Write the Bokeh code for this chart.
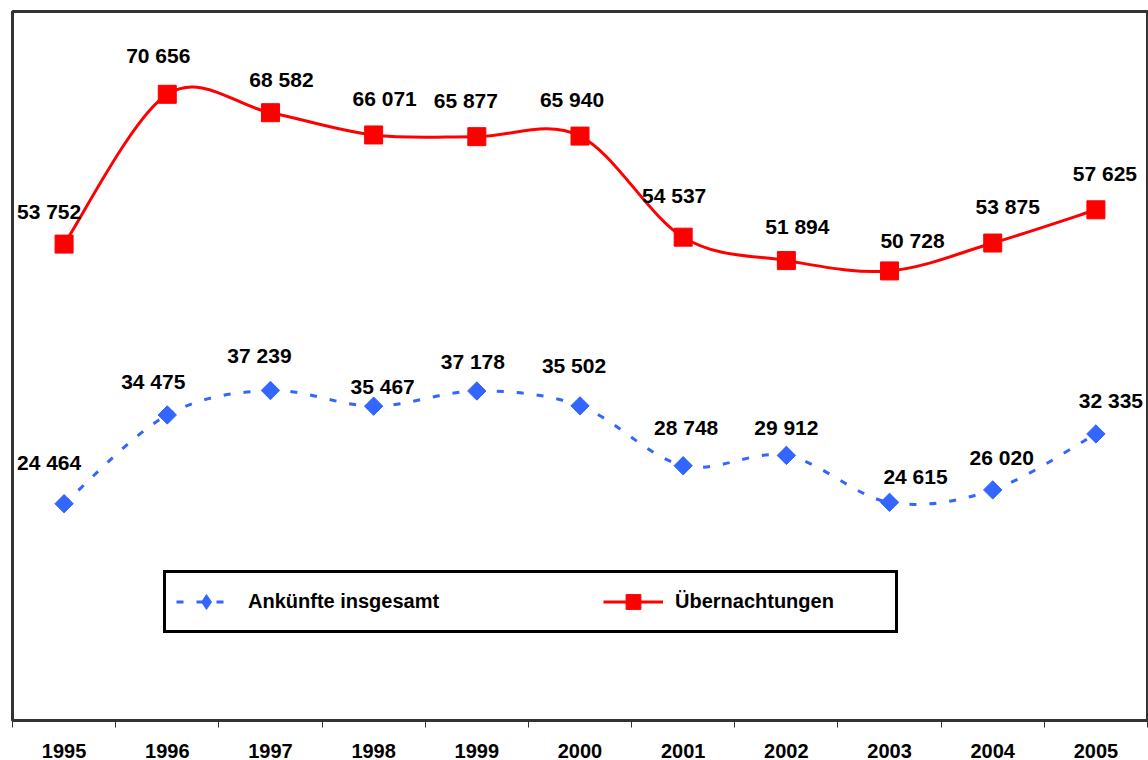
import numpy as np
from bokeh.plotting import figure
from bokeh.models import FixedTicker, Legend, LegendItem, ColumnDataSource, Range1d
from bokeh.core.properties import value
from bokeh.embed import file_html
from bokeh.resources import INLINE

# ---- data ----
years = ["1995", "1996", "1997", "1998", "1999", "2000", "2001", "2002", "2003", "2004", "2005"]
arrivals = [24464, 34475, 37239, 35467, 37178, 35502, 28748, 29912, 24615, 26020, 32335]
nights = [53752, 70656, 68582, 66071, 65877, 65940, 54537, 51894, 50728, 53875, 57625]

# ---- label offsets in pixels (styling) ----
nights_dx = [-15, -9, 11, 11, -11, -8, -9, 11, 23, 15, 9]
nights_dy = [-33, -39, -33, -36, -36, -37, -42, -34, -30, -37, -36]
arr_dx = [-15, -14, -11, 9, -4, -6, 3, 0, 26, 9, 15]
arr_dy = [-41, -33, -35, -20, -30, -40, -38, -28, -26, -32, -33]

FONT = "Liberation Sans"
RED = "#FF0000"
BLUE = "#3366FF"


def fmt(v):
    return f"{v:,}".replace(",", " ")


def smooth_segments(vals):
    """Cubic Bezier segments (Catmull-Rom style) through the data points."""
    x = np.arange(len(vals), dtype=float)
    y = np.asarray(vals, dtype=float)
    xp = np.concatenate([[x[0]], x, [x[-1]]])
    yp = np.concatenate([[y[0]], y, [y[-1]]])
    n = len(vals)
    d = dict(x0=[], y0=[], x1=[], y1=[], cx0=[], cy0=[], cx1=[], cy1=[])
    for i in range(n - 1):
        j = i + 1  # index into padded arrays
        d["x0"].append(xp[j]); d["y0"].append(yp[j])
        d["x1"].append(xp[j + 1]); d["y1"].append(yp[j + 1])
        d["cx0"].append(xp[j] + (xp[j + 1] - xp[j - 1]) / 6)
        d["cy0"].append(yp[j] + (yp[j + 1] - yp[j - 1]) / 6)
        d["cx1"].append(xp[j + 1] - (xp[j + 2] - xp[j]) / 6)
        d["cy1"].append(yp[j + 1] - (yp[j + 2] - yp[j]) / 6)
    return ColumnDataSource(d)


n = len(years)
xs = list(range(n))
x_start, x_end = -0.5, n - 0.5
y_start, y_end = 0, 80000

p = figure(width=1148, height=760, x_range=Range1d(x_start, x_end), y_range=Range1d(y_start, y_end),
           output_backend="svg", toolbar_location=None,
           min_border_left=12, min_border_right=1, min_border_top=11, min_border_bottom=0)
p.background_fill_color = "white"
p.border_fill_color = "white"
p.outline_line_color = "#333333"
p.outline_line_width = 3
p.outline_line_alpha = 1
p.grid.visible = False
p.yaxis.visible = False

# x axis: labels at category centers, ticks between categories
xa = p.xaxis[0]
xa.ticker = FixedTicker(ticks=xs, minor_ticks=[i - 0.5 for i in range(n + 1)])
xa.major_label_overrides = {i: years[i] for i in xs}
xa.major_tick_line_color = None
xa.major_tick_in = 0
xa.major_tick_out = 0
xa.minor_tick_in = 0
xa.minor_tick_out = 7
xa.minor_tick_line_color = "#333333"
xa.minor_tick_line_width = 1
xa.axis_line_color = "#333333"
xa.axis_line_width = 3
xa.major_label_standoff = 16
xa.major_label_text_font = FONT
xa.major_label_text_font_style = "bold"
xa.major_label_text_font_size = "20px"
xa.major_label_text_color = "black"

# series: Übernachtungen
r_red_line = p.bezier("x0", "y0", "x1", "y1", "cx0", "cy0", "cx1", "cy1",
                      source=smooth_segments(nights), line_color=RED, line_width=3)
red_src = ColumnDataSource(dict(x=xs, y=nights, t=[fmt(v) for v in nights], dx=nights_dx, dy=nights_dy))
r_red_pts = p.scatter("x", "y", source=red_src, marker="square", size=18,
                      fill_color=RED, line_color=RED)

# series: Ankünfte
r_blue_line = p.bezier("x0", "y0", "x1", "y1", "cx0", "cy0", "cx1", "cy1",
                       source=smooth_segments(arrivals), line_color=BLUE, line_width=3,
                       line_dash="7 13")
blue_src = ColumnDataSource(dict(x=xs, y=arrivals, t=[fmt(v) for v in arrivals], dx=arr_dx, dy=arr_dy))
# diamond marker (used as legend key; legends do not rotate markers), covered by the rotated squares
r_blue_key = p.scatter("x", "y", source=blue_src, marker="diamond", size=17,
                       fill_color=BLUE, line_color=BLUE)
r_blue_pts = p.scatter("x", "y", source=blue_src, marker="square", size=13, angle=np.pi / 4,
                       fill_color=BLUE, line_color=BLUE)

# value labels
for src in (red_src, blue_src):
    p.text("x", "y", text="t", source=src, x_offset="dx", y_offset="dy",
           text_font=value(FONT), text_font_style="bold", text_font_size="21px",
           text_color="black", text_align="center", text_baseline="middle")

legend = Legend(items=[LegendItem(label="Ankünfte insgesamt", renderers=[r_blue_line, r_blue_key]),
                       LegendItem(label="Übernachtungen", renderers=[r_red_line, r_red_pts])],
                location=(151, 87), orientation="horizontal",
                border_line_color="black", border_line_width=3, border_line_alpha=1,
                padding=10, spacing=145, label_width=210,
                glyph_width=60, glyph_height=37, label_height=37, label_standoff=12,
                label_text_font=FONT, label_text_font_style="bold",
                label_text_font_size="20px", label_text_color="black",
                background_fill_color="white", background_fill_alpha=1)
p.add_layout(legend)

open("out.html", "w").write(file_html(p, INLINE))
